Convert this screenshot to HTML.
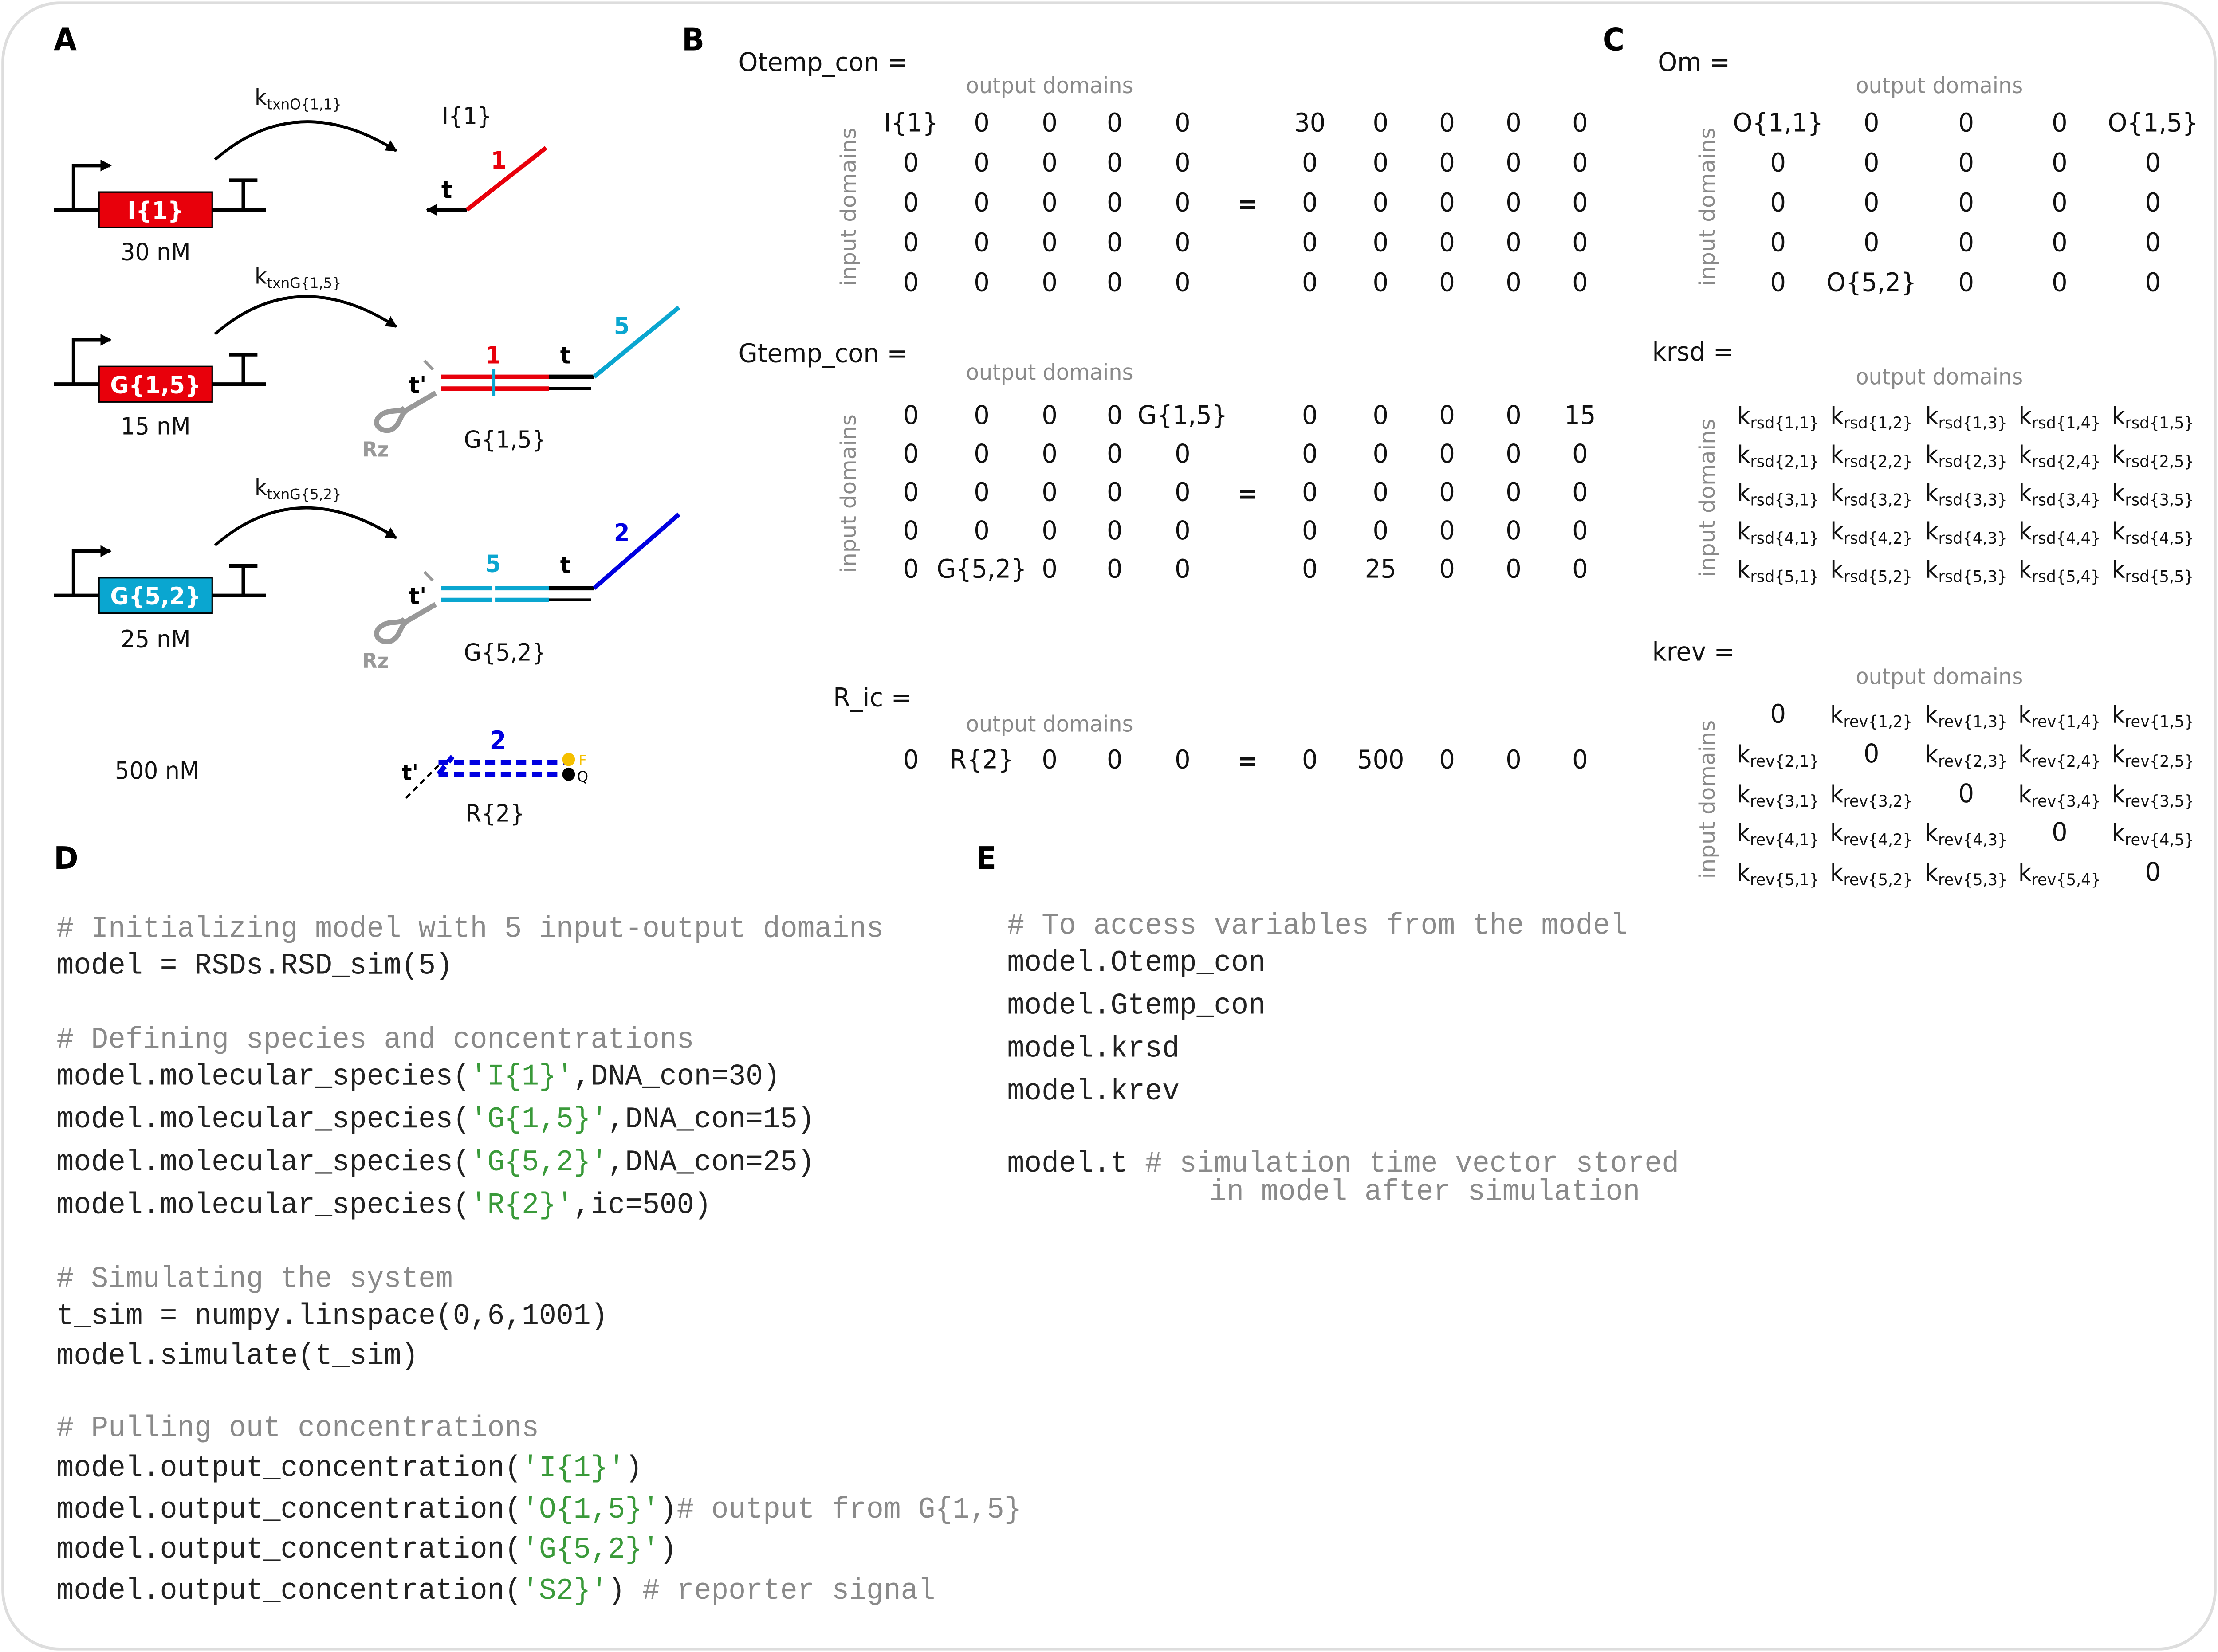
<!DOCTYPE html>
<html><head><meta charset="utf-8"><style>
html,body{margin:0;padding:0;background:#fff;width:5223px;height:3725px;overflow:hidden;}
svg{display:block;position:absolute;left:0;top:0;width:100vw;height:100vh;}
.s{font-family:"DejaVu Sans","Liberation Sans",sans-serif;}
.m{font-family:"Liberation Mono","DejaVu Sans Mono",monospace;font-size:20.3px;fill:#222;}
.c{fill:#8a8a8a;}
.g{fill:#3a9a3a;}
.gr{fill:#8a8a8a;font-size:15px;}
.n{font-size:17.5px;text-anchor:middle;fill:#111;}
.k{font-size:16px;text-anchor:middle;fill:#111;}
</style></head><body>
<svg viewBox="0 0 1568 1118" preserveAspectRatio="none" xmlns="http://www.w3.org/2000/svg" class="s">
<defs>
<marker id="ah" markerWidth="8" markerHeight="8" refX="7" refY="4" orient="auto" markerUnits="userSpaceOnUse"><path d="M0,0 L8,4 L0,8 z" fill="#000"/></marker>
</defs>
<rect x="2" y="2" width="1564" height="1114" rx="40" fill="#fff" stroke="#ddd" stroke-width="2"/>
<g font-weight="bold" font-size="21" fill="#000">
<text x="38" y="34">A</text><text x="482" y="34">B</text><text x="1133" y="34">C</text>
<text x="38" y="588">D</text><text x="690" y="588">E</text></g>

<g stroke="#000" stroke-width="2.5" fill="none">
<line x1="38" y1="142" x2="188" y2="142"/><path d="M52,142 V112 H78" marker-end="url(#ah)"/><path d="M172,142 V122 M162,122 H182"/>
<line x1="38" y1="260" x2="188" y2="260"/><path d="M52,260 V230 H78" marker-end="url(#ah)"/><path d="M172,260 V240 M162,240 H182"/>
<line x1="38" y1="403" x2="188" y2="403"/><path d="M52,403 V373 H78" marker-end="url(#ah)"/><path d="M172,403 V383 M162,383 H182"/>
<path d="M152,108 Q210,60 280,102" stroke-width="2" marker-end="url(#ah)"/>
<path d="M152,226 Q210,178 280,221" stroke-width="2" marker-end="url(#ah)"/>
<path d="M152,369 Q210,321 280,364" stroke-width="2" marker-end="url(#ah)"/>
</g>
<rect x="70" y="130" width="80" height="24" fill="#e8000b" stroke="#000" stroke-width="1"/>
<text x="110" y="148" fill="#fff" font-weight="bold" font-size="16" text-anchor="middle">I{1}</text>
<rect x="70" y="248" width="80" height="24" fill="#e8000b" stroke="#000" stroke-width="1"/>
<text x="110" y="266" fill="#fff" font-weight="bold" font-size="16" text-anchor="middle">G{1,5}</text>
<rect x="70" y="391" width="80" height="24" fill="#0aa6d0" stroke="#000" stroke-width="1"/>
<text x="110" y="409" fill="#fff" font-weight="bold" font-size="16" text-anchor="middle">G{5,2}</text>
<g font-size="16" text-anchor="middle" fill="#111">
<text x="110" y="176">30 nM</text><text x="110" y="294">15 nM</text><text x="110" y="438">25 nM</text><text x="111" y="527">500 nM</text>
<text x="330" y="84">I{1}</text><text x="357" y="303">G{1,5}</text><text x="357" y="447">G{5,2}</text><text x="350" y="556">R{2}</text>
</g>
<g font-size="15" fill="#111">
<text x="180" y="71">k<tspan font-size="10" dy="3">txnO{1,1}</tspan></text>
<text x="180" y="192">k<tspan font-size="10" dy="3">txnG{1,5}</tspan></text>
<text x="180" y="335">k<tspan font-size="10" dy="3">txnG{5,2}</tspan></text>
</g>
<path d="M330,142 H302" stroke="#000" stroke-width="2.5" marker-end="url(#ah)"/>
<line x1="330" y1="142" x2="386" y2="100" stroke="#e8000b" stroke-width="3"/>
<g font-weight="bold" font-size="16"><text x="312" y="134">t</text><text x="347" y="114" fill="#e8000b">1</text></g>
<g stroke-width="3">
<line x1="312" y1="255" x2="388" y2="255" stroke="#e8000b"/><line x1="312" y1="263" x2="388" y2="263" stroke="#e8000b"/>
<line x1="349" y1="250" x2="349" y2="268" stroke="#0aa6d0" stroke-width="2"/>
<line x1="388" y1="255" x2="420" y2="255" stroke="#000"/><line x1="388" y1="263" x2="418" y2="263" stroke="#000" stroke-width="2"/>
<line x1="420" y1="255" x2="480" y2="208" stroke="#0aa6d0"/>
<line x1="312" y1="398" x2="388" y2="398" stroke="#0aa6d0"/><line x1="312" y1="406" x2="388" y2="406" stroke="#0aa6d0"/>
<line x1="349" y1="393" x2="349" y2="411" stroke="#fff" stroke-width="2"/>
<line x1="388" y1="398" x2="420" y2="398" stroke="#000"/><line x1="388" y1="406" x2="418" y2="406" stroke="#000" stroke-width="2"/>
<line x1="420" y1="398" x2="480" y2="348" stroke="#0000e0"/>
</g>
<g font-weight="bold" font-size="16">
<text x="289" y="266">t'</text><text x="343" y="246" fill="#e8000b">1</text><text x="396" y="246">t</text><text x="434" y="226" fill="#0aa6d0">5</text>
<text x="289" y="409">t'</text><text x="343" y="387" fill="#0aa6d0">5</text><text x="396" y="388">t</text><text x="434" y="366" fill="#0000e0">2</text>
</g>
<g stroke="#999" stroke-width="3.5" fill="none">
<path d="M308,266 L290,276 C282,280 284,286 278,290 C272,294 262,288 268,282 C274,276 282,280 286,276"/>
<path d="M308,409 L290,419 C282,423 284,429 278,433 C272,437 262,431 268,425 C274,419 282,423 286,419"/>
<path d="M300,244 L306,250" stroke-width="2"/><path d="M300,387 L306,393" stroke-width="2"/>
</g>
<g fill="#999" font-weight="bold" font-size="14"><text x="256" y="309">Rz</text><text x="256" y="452">Rz</text></g>
<g stroke="#0000e0" stroke-width="3.5" stroke-dasharray="7,4" fill="none">
<path d="M310,516 H400"/><path d="M310,524 H400"/><path d="M310,524 L320,512"/>
</g>
<path d="M287,540 L310,518" stroke="#000" stroke-width="1.5" stroke-dasharray="4,3"/>
<circle cx="402" cy="514" r="4.5" fill="#f5c000"/><circle cx="402" cy="524" r="4.5" fill="#000"/>
<text x="409" y="518" font-size="10" fill="#f5c000">F</text><text x="408" y="529" font-size="10" fill="#000">Q</text>
<text x="352" y="507" font-weight="bold" font-size="17" fill="#0000e0" text-anchor="middle">2</text>
<text x="284" y="528" font-weight="bold" font-size="15">t'</text>

<g font-size="17.5" fill="#111">
<text x="522" y="48">Otemp_con =</text><text x="522" y="245">Gtemp_con =</text><text x="589" y="478">R_ic =</text>
<text x="1172" y="48">Om =</text><text x="1168" y="244">krsd =</text><text x="1168" y="447">krev =</text>
</g>
<g class="gr" text-anchor="middle">
<text x="742" y="63">output domains</text><text x="742" y="257">output domains</text><text x="742" y="495">output domains</text>
<text x="1371" y="63">output domains</text><text x="1371" y="260">output domains</text><text x="1371" y="463">output domains</text>
<text transform="translate(605,140) rotate(-90)">input domains</text>
<text transform="translate(605,334) rotate(-90)">input domains</text>
<text transform="translate(1212,140) rotate(-90)">input domains</text>
<text transform="translate(1212,337) rotate(-90)">input domains</text>
<text transform="translate(1212,541) rotate(-90)">input domains</text>
</g>
<g class="n">
<text x="644" y="89">I{1}</text><text x="694" y="89">0</text><text x="742" y="89">0</text><text x="788" y="89">0</text><text x="836" y="89">0</text>
<text x="926" y="89">30</text><text x="976" y="89">0</text><text x="1023" y="89">0</text><text x="1070" y="89">0</text><text x="1117" y="89">0</text>
<text x="644" y="116">0</text><text x="694" y="116">0</text><text x="742" y="116">0</text><text x="788" y="116">0</text><text x="836" y="116">0</text>
<text x="926" y="116">0</text><text x="976" y="116">0</text><text x="1023" y="116">0</text><text x="1070" y="116">0</text><text x="1117" y="116">0</text>
<text x="644" y="143">0</text><text x="694" y="143">0</text><text x="742" y="143">0</text><text x="788" y="143">0</text><text x="836" y="143">0</text>
<text x="926" y="143">0</text><text x="976" y="143">0</text><text x="1023" y="143">0</text><text x="1070" y="143">0</text><text x="1117" y="143">0</text>
<text x="644" y="170">0</text><text x="694" y="170">0</text><text x="742" y="170">0</text><text x="788" y="170">0</text><text x="836" y="170">0</text>
<text x="926" y="170">0</text><text x="976" y="170">0</text><text x="1023" y="170">0</text><text x="1070" y="170">0</text><text x="1117" y="170">0</text>
<text x="644" y="197">0</text><text x="694" y="197">0</text><text x="742" y="197">0</text><text x="788" y="197">0</text><text x="836" y="197">0</text>
<text x="926" y="197">0</text><text x="976" y="197">0</text><text x="1023" y="197">0</text><text x="1070" y="197">0</text><text x="1117" y="197">0</text>
<text x="882" y="144" font-weight="bold">=</text>
<text x="644" y="287">0</text><text x="694" y="287">0</text><text x="742" y="287">0</text><text x="788" y="287">0</text><text x="836" y="287">G{1,5}</text>
<text x="926" y="287">0</text><text x="976" y="287">0</text><text x="1023" y="287">0</text><text x="1070" y="287">0</text><text x="1117" y="287">15</text>
<text x="644" y="313">0</text><text x="694" y="313">0</text><text x="742" y="313">0</text><text x="788" y="313">0</text><text x="836" y="313">0</text>
<text x="926" y="313">0</text><text x="976" y="313">0</text><text x="1023" y="313">0</text><text x="1070" y="313">0</text><text x="1117" y="313">0</text>
<text x="644" y="339">0</text><text x="694" y="339">0</text><text x="742" y="339">0</text><text x="788" y="339">0</text><text x="836" y="339">0</text>
<text x="926" y="339">0</text><text x="976" y="339">0</text><text x="1023" y="339">0</text><text x="1070" y="339">0</text><text x="1117" y="339">0</text>
<text x="644" y="365">0</text><text x="694" y="365">0</text><text x="742" y="365">0</text><text x="788" y="365">0</text><text x="836" y="365">0</text>
<text x="926" y="365">0</text><text x="976" y="365">0</text><text x="1023" y="365">0</text><text x="1070" y="365">0</text><text x="1117" y="365">0</text>
<text x="644" y="391">0</text><text x="694" y="391">G{5,2}</text><text x="742" y="391">0</text><text x="788" y="391">0</text><text x="836" y="391">0</text>
<text x="926" y="391">0</text><text x="976" y="391">25</text><text x="1023" y="391">0</text><text x="1070" y="391">0</text><text x="1117" y="391">0</text>
<text x="882" y="340" font-weight="bold">=</text>
<text x="644" y="520">0</text><text x="694" y="520">R{2}</text><text x="742" y="520">0</text><text x="788" y="520">0</text><text x="836" y="520">0</text>
<text x="882" y="521" font-weight="bold">=</text>
<text x="926" y="520">0</text><text x="976" y="520">500</text><text x="1023" y="520">0</text><text x="1070" y="520">0</text><text x="1117" y="520">0</text>
<text x="1257" y="89">O{1,1}</text><text x="1323" y="89">0</text><text x="1390" y="89">0</text><text x="1456" y="89">0</text><text x="1522" y="89">O{1,5}</text>
<text x="1257" y="116">0</text><text x="1323" y="116">0</text><text x="1390" y="116">0</text><text x="1456" y="116">0</text><text x="1522" y="116">0</text>
<text x="1257" y="143">0</text><text x="1323" y="143">0</text><text x="1390" y="143">0</text><text x="1456" y="143">0</text><text x="1522" y="143">0</text>
<text x="1257" y="170">0</text><text x="1323" y="170">0</text><text x="1390" y="170">0</text><text x="1456" y="170">0</text><text x="1522" y="170">0</text>
<text x="1257" y="197">0</text><text x="1323" y="197">O{5,2}</text><text x="1390" y="197">0</text><text x="1456" y="197">0</text><text x="1522" y="197">0</text>
<text x="1257" y="489">0</text><text x="1323" y="516">0</text><text x="1390" y="543">0</text><text x="1456" y="569">0</text><text x="1522" y="596">0</text>
</g>
<g class="k">
<text x="1257" y="287">k<tspan font-size="11" dy="3">rsd{1,1}</tspan></text><text x="1323" y="287">k<tspan font-size="11" dy="3">rsd{1,2}</tspan></text><text x="1390" y="287">k<tspan font-size="11" dy="3">rsd{1,3}</tspan></text><text x="1456" y="287">k<tspan font-size="11" dy="3">rsd{1,4}</tspan></text><text x="1522" y="287">k<tspan font-size="11" dy="3">rsd{1,5}</tspan></text>
<text x="1257" y="313">k<tspan font-size="11" dy="3">rsd{2,1}</tspan></text><text x="1323" y="313">k<tspan font-size="11" dy="3">rsd{2,2}</tspan></text><text x="1390" y="313">k<tspan font-size="11" dy="3">rsd{2,3}</tspan></text><text x="1456" y="313">k<tspan font-size="11" dy="3">rsd{2,4}</tspan></text><text x="1522" y="313">k<tspan font-size="11" dy="3">rsd{2,5}</tspan></text>
<text x="1257" y="339">k<tspan font-size="11" dy="3">rsd{3,1}</tspan></text><text x="1323" y="339">k<tspan font-size="11" dy="3">rsd{3,2}</tspan></text><text x="1390" y="339">k<tspan font-size="11" dy="3">rsd{3,3}</tspan></text><text x="1456" y="339">k<tspan font-size="11" dy="3">rsd{3,4}</tspan></text><text x="1522" y="339">k<tspan font-size="11" dy="3">rsd{3,5}</tspan></text>
<text x="1257" y="365">k<tspan font-size="11" dy="3">rsd{4,1}</tspan></text><text x="1323" y="365">k<tspan font-size="11" dy="3">rsd{4,2}</tspan></text><text x="1390" y="365">k<tspan font-size="11" dy="3">rsd{4,3}</tspan></text><text x="1456" y="365">k<tspan font-size="11" dy="3">rsd{4,4}</tspan></text><text x="1522" y="365">k<tspan font-size="11" dy="3">rsd{4,5}</tspan></text>
<text x="1257" y="391">k<tspan font-size="11" dy="3">rsd{5,1}</tspan></text><text x="1323" y="391">k<tspan font-size="11" dy="3">rsd{5,2}</tspan></text><text x="1390" y="391">k<tspan font-size="11" dy="3">rsd{5,3}</tspan></text><text x="1456" y="391">k<tspan font-size="11" dy="3">rsd{5,4}</tspan></text><text x="1522" y="391">k<tspan font-size="11" dy="3">rsd{5,5}</tspan></text>
<text x="1323" y="489">k<tspan font-size="11" dy="3">rev{1,2}</tspan></text><text x="1390" y="489">k<tspan font-size="11" dy="3">rev{1,3}</tspan></text><text x="1456" y="489">k<tspan font-size="11" dy="3">rev{1,4}</tspan></text><text x="1522" y="489">k<tspan font-size="11" dy="3">rev{1,5}</tspan></text>
<text x="1257" y="516">k<tspan font-size="11" dy="3">rev{2,1}</tspan></text><text x="1390" y="516">k<tspan font-size="11" dy="3">rev{2,3}</tspan></text><text x="1456" y="516">k<tspan font-size="11" dy="3">rev{2,4}</tspan></text><text x="1522" y="516">k<tspan font-size="11" dy="3">rev{2,5}</tspan></text>
<text x="1257" y="543">k<tspan font-size="11" dy="3">rev{3,1}</tspan></text><text x="1323" y="543">k<tspan font-size="11" dy="3">rev{3,2}</tspan></text><text x="1456" y="543">k<tspan font-size="11" dy="3">rev{3,4}</tspan></text><text x="1522" y="543">k<tspan font-size="11" dy="3">rev{3,5}</tspan></text>
<text x="1257" y="569">k<tspan font-size="11" dy="3">rev{4,1}</tspan></text><text x="1323" y="569">k<tspan font-size="11" dy="3">rev{4,2}</tspan></text><text x="1390" y="569">k<tspan font-size="11" dy="3">rev{4,3}</tspan></text><text x="1522" y="569">k<tspan font-size="11" dy="3">rev{4,5}</tspan></text>
<text x="1257" y="596">k<tspan font-size="11" dy="3">rev{5,1}</tspan></text><text x="1323" y="596">k<tspan font-size="11" dy="3">rev{5,2}</tspan></text><text x="1390" y="596">k<tspan font-size="11" dy="3">rev{5,3}</tspan></text><text x="1456" y="596">k<tspan font-size="11" dy="3">rev{5,4}</tspan></text>
</g>

<g class="m" xml:space="preserve">
<text x="40" y="634" class="c"># Initializing model with 5 input-output domains</text>
<text x="40" y="659">model = RSDs.RSD_sim(5)</text>
<text x="40" y="709" class="c"># Defining species and concentrations</text>
<text x="40" y="734">model.molecular_species(<tspan class="g">'I{1}'</tspan>,DNA_con=30)</text>
<text x="40" y="763">model.molecular_species(<tspan class="g">'G{1,5}'</tspan>,DNA_con=15)</text>
<text x="40" y="792">model.molecular_species(<tspan class="g">'G{5,2}'</tspan>,DNA_con=25)</text>
<text x="40" y="821">model.molecular_species(<tspan class="g">'R{2}'</tspan>,ic=500)</text>
<text x="40" y="871" class="c"># Simulating the system</text>
<text x="40" y="896">t_sim = numpy.linspace(0,6,1001)</text>
<text x="40" y="923">model.simulate(t_sim)</text>
<text x="40" y="972" class="c"># Pulling out concentrations</text>
<text x="40" y="999">model.output_concentration(<tspan class="g">'I{1}'</tspan>)</text>
<text x="40" y="1027">model.output_concentration(<tspan class="g">'O{1,5}'</tspan>)<tspan class="c"># output from G{1,5}</tspan></text>
<text x="40" y="1054">model.output_concentration(<tspan class="g">'G{5,2}'</tspan>)</text>
<text x="40" y="1082">model.output_concentration(<tspan class="g">'S2}'</tspan>)   <tspan class="c"># reporter signal</tspan></text>
<text x="712" y="632" class="c"># To access variables from the model</text>
<text x="712" y="657">model.Otemp_con</text>
<text x="712" y="686">model.Gtemp_con</text>
<text x="712" y="715">model.krsd</text>
<text x="712" y="744">model.krev</text>
<text x="712" y="793">model.t  <tspan class="c"># simulation time vector stored</tspan></text>
<text x="855" y="812" class="c">in model after simulation</text>
</g>
</svg>
</body></html>
